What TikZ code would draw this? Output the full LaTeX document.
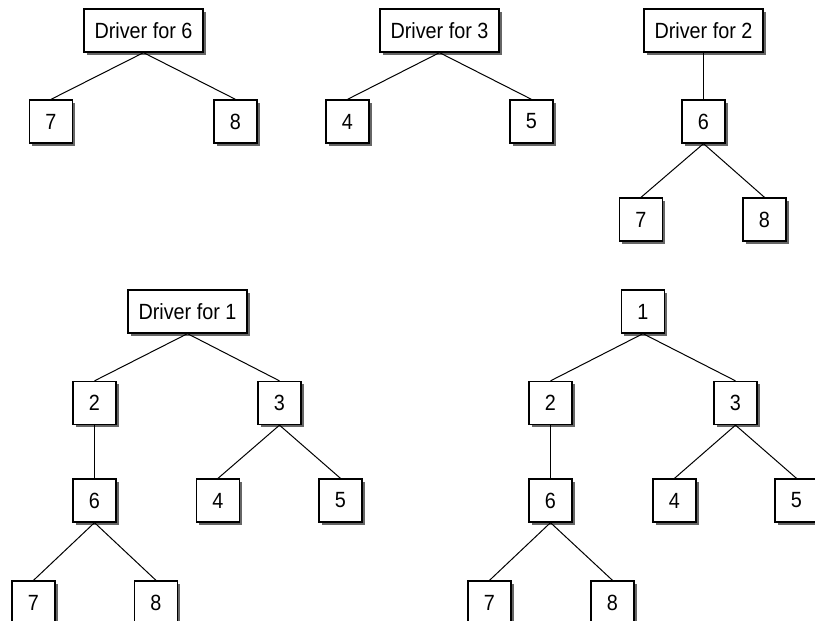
\documentclass[tikz,border=0pt]{standalone}
\usepackage{fontspec}
\setmainfont{Liberation Sans}
\newfontfamily\narrowfont[FakeStretch=0.9]{Liberation Sans}
\usetikzlibrary{shadows}
\tikzset{
  box/.style={draw=black, fill=white, line width=1.3pt, inner sep=0pt,
    minimum width=43pt, minimum height=43pt,
    font=\narrowfont\fontsize{22}{22}\selectfont,
    drop shadow={shadow xshift=2.5pt, shadow yshift=-2.5pt, fill=black!60, opacity=1}},
  drvbox/.style={box, minimum width=119pt},
  link/.style={draw=black, line width=1pt}
}
\begin{document}
\begin{tikzpicture}[x=1pt,y=-1pt]
\clip (0,0) rectangle (815,621);
\fill[white] (0,0) rectangle (815,621);
% top left
\node[drvbox] (d6) at (143.5,30.5) {Driver for 6};
\node[box] (a7) at (51,121.5) {7};
\node[box] (a8) at (235.5,121.5) {8};
\draw[link] (d6.south) -- (a7.north);
\draw[link] (d6.south) -- (a8.north);
% top middle
\node[drvbox] (d3) at (439.5,30.5) {Driver for 3};
\node[box] (b4) at (347.5,121.5) {4};
\node[box] (b5) at (531.5,121.5) {5};
\draw[link] (d3.south) -- (b4.north);
\draw[link] (d3.south) -- (b5.north);
% top right
\node[drvbox] (d2) at (703.5,30.5) {Driver for 2};
\node[box] (c6) at (703.5,121.5) {6};
\node[box] (c7) at (641,219.5) {7};
\node[box] (c8) at (764.5,219.5) {8};
\draw[link] (d2.south) -- (c6.north);
\draw[link] (c6.south) -- (c7.north);
\draw[link] (c6.south) -- (c8.north);
% bottom left
\node[drvbox] (d1) at (187.5,311.5) {Driver for 1};
\node[box] (e2) at (94.5,403) {2};
\node[box] (e3) at (279.5,403) {3};
\node[box] (e6) at (94.5,500.5) {6};
\node[box] (e4) at (218,500.5) {4};
\node[box] (e5) at (340.5,500.5) {5};
\node[box] (e7) at (33.5,602.5) {7};
\node[box] (e8) at (156,602.5) {8};
\draw[link] (d1.south) -- (e2.north);
\draw[link] (d1.south) -- (e3.north);
\draw[link] (e2.south) -- (e6.north);
\draw[link] (e3.south) -- (e4.north);
\draw[link] (e3.south) -- (e5.north);
\draw[link] (e6.south) -- (e7.north);
\draw[link] (e6.south) -- (e8.north);
% bottom right
\node[box] (f1) at (643,311.5) {1};
\node[box] (f2) at (550.5,403) {2};
\node[box] (f3) at (735.5,403) {3};
\node[box] (f6) at (550.5,500.5) {6};
\node[box] (f4) at (674.5,500.5) {4};
\node[box] (f5) at (796.5,500.5) {5};
\node[box] (f7) at (489.5,602.5) {7};
\node[box] (f8) at (612.5,602.5) {8};
\draw[link] (f1.south) -- (f2.north);
\draw[link] (f1.south) -- (f3.north);
\draw[link] (f2.south) -- (f6.north);
\draw[link] (f3.south) -- (f4.north);
\draw[link] (f3.south) -- (f5.north);
\draw[link] (f6.south) -- (f7.north);
\draw[link] (f6.south) -- (f8.north);
\end{tikzpicture}
\end{document}
